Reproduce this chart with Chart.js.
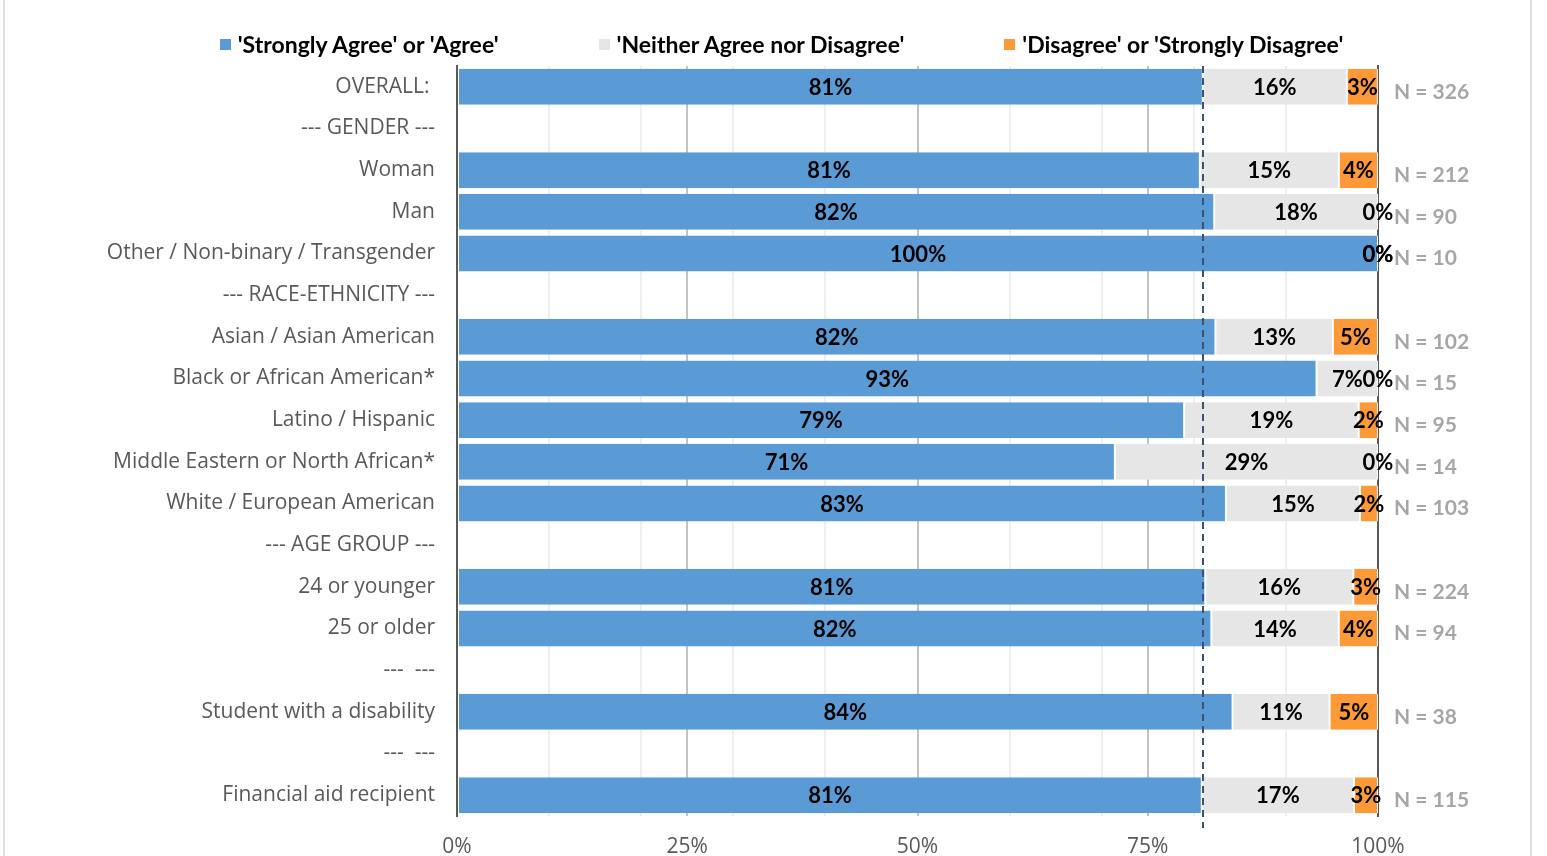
<!DOCTYPE html>
<html>
<head>
<meta charset="utf-8">
<script src="https://cdn.jsdelivr.net/npm/chart.js@4/dist/chart.umd.min.js"></script>
<style>
  html, body { margin: 0; padding: 0; background: #fff; overflow: hidden; }
  #wrap { position: relative; width: 1547px; height: 856px; }
  #frame {
    position: absolute; left: 3px; top: 0; width: 1525px; height: 856px;
    border-left: 2px solid #dedede; border-right: 2px solid #dedede;
    pointer-events: none;
  }
  #legend {
    position: absolute; left: 8px; top: 30px; width: 1547px;
    display: flex; justify-content: center; gap: 100px;
    font: bold 23px Lato, sans-serif; color: #000;
  }
  #legend .item { display: flex; align-items: center; white-space: nowrap; }
  #legend .box { width: 11px; height: 11px; margin-right: 7px; }
</style>
</head>
<body>
<div id="wrap">
  <div id="legend"></div>
  <canvas id="chart" width="1547" height="856"></canvas>
  <div id="frame"></div>
</div>
<script>
// ── Data ──────────────────────────────────────────────────────────────────────

const categories = [
  'OVERALL: ', '--- GENDER ---', 'Woman', 'Man', 'Other / Non-binary / Transgender',
  '--- RACE-ETHNICITY ---', 'Asian / Asian American', 'Black or African American*',
  'Latino / Hispanic', 'Middle Eastern or North African*', 'White / European American',
  '--- AGE GROUP ---', '24 or younger', '25 or older', '---  ---',
  'Student with a disability', '---  ---', 'Financial aid recipient',
];

const agree    = [80.98, null, 80.66, 82.22, 100, null, 82.35, 93.33, 78.95, 71.43, 83.49, null, 81.25, 81.91, null, 84.21, null, 80.87];
const neutral  = [15.64, null, 15.09, 17.78, 0,   null, 12.75, 6.67,  18.95, 28.57, 14.56, null, 16.07, 13.83, null, 10.53, null, 16.52];
const disagree = [3.37,  null, 4.25,  0,     0,   null, 4.90,  0,     2.11,  0,     1.94,  null, 2.68,  4.26,  null, 5.26,  null, 2.61];

const nLabels = [
  'N = 326', '', 'N = 212', 'N = 90', 'N = 10', '', 'N = 102', 'N = 15', 'N = 95',
  'N = 14', 'N = 103', '', 'N = 224', 'N = 94', '', 'N = 38', '', 'N = 115',
];

const xTicks = [0, 25, 50, 75, 100];

const SERIES = [
  { label: "'Strongly Agree' or 'Agree'",       data: agree,    color: '#5b9bd5' },
  { label: "'Neither Agree nor Disagree'",      data: neutral,  color: '#e7e6e6' },
  { label: "'Disagree' or 'Strongly Disagree'", data: disagree, color: '#fd9a37' },
];

// ── Plugins ───────────────────────────────────────────────────────────────────

// dashed reference line at the OVERALL agree value
const overallLine = {
  id: 'overallLine',
  afterDatasetsDraw(chart) {
    const { ctx, chartArea, scales: { x } } = chart;
    const px = Math.round(x.getPixelForValue(agree[0]));
    ctx.save();
    ctx.strokeStyle = '#3f5170';
    ctx.lineWidth = 2;
    ctx.setLineDash([7, 5]);
    ctx.beginPath();
    ctx.moveTo(px, chartArea.top);
    ctx.lineTo(px, chartArea.bottom + 12);
    ctx.stroke();
    ctx.restore();
  },
};

// percent labels centred on each segment
const segmentLabels = {
  id: 'segmentLabels',
  afterDraw(chart) {
    const { ctx } = chart;
    ctx.save();
    ctx.font = 'bold 22px Lato, sans-serif';
    ctx.fillStyle = '#000';
    ctx.textAlign = 'center';
    ctx.textBaseline = 'middle';
    chart.data.datasets.forEach((ds, di) => {
      chart.getDatasetMeta(di).data.forEach((bar, i) => {
        const v = ds.data[i];
        if (v === null || v === undefined) return;
        ctx.fillText(`${Math.round(v)}%`, (bar.x + bar.base) / 2, bar.y + 1);
      });
    });
    ctx.restore();
  },
};

// ── Chart ─────────────────────────────────────────────────────────────────────

const chart = new Chart(document.getElementById('chart'), {
  type: 'bar',
  data: {
    labels: categories,
    datasets: SERIES.map(s => ({
      label: s.label,
      data: s.data,
      backgroundColor: s.color,
      borderColor: '#ffffff',
      borderWidth: { left: 1, right: 1, top: 0, bottom: 0 },
      borderSkipped: false,
      barPercentage: 0.865,
      categoryPercentage: 1,
    })),
  },
  options: {
    indexAxis: 'y',
    responsive: false,
    animation: false,
    layout: { padding: { top: 66, left: 0, right: 0, bottom: 0 } },
    plugins: {
      legend: { display: false },
      tooltip: { enabled: false },
    },
    scales: {
      x: {
        stacked: true,
        min: 0,
        max: 100,
        afterBuildTicks: s => {
          const t = [];
          for (let v = 0; v <= 100; v += 5) t.push({ value: v });
          s.ticks = t;
        },
        afterFit: s => { s.height = 40; },
        border: { display: false },
        grid: {
          drawTicks: false,
          color: c => {
            const v = c.tick.value;
            if (v === 0 || v === 100) return 'rgba(0,0,0,0)';
            if (v % 25 === 0) return '#c3c3c3';
            if (v % 10 === 0) return '#efefef';
            return 'rgba(0,0,0,0)';
          },
          lineWidth: 2,
        },
        ticks: {
          autoSkip: false,
          maxRotation: 0,
          padding: 18,
          color: '#595959',
          font: { family: 'Open Sans', size: 21 },
          callback: v => xTicks.includes(v) ? `${v}%` : '',
        },
      },
      y: {
        stacked: true,
        z: 1,
        afterFit: s => { s.width = 457; },
        grid: { display: false, drawTicks: false },
        border: { display: true, color: '#595959', width: 2 },
        ticks: {
          padding: 22,
          color: '#595959',
          font: { family: 'Open Sans', size: 21 },
        },
      },
      y2: {
        type: 'category',
        labels: nLabels,
        position: 'right',
        offset: true,
        z: 1,
        afterFit: s => { s.width = 169; },
        grid: { display: false, drawTicks: false },
        border: { display: true, color: '#595959', width: 2 },
        ticks: {
          padding: 16,
          labelOffset: 5,
          autoSkip: false,
          color: '#a6a6a6',
          font: { family: 'Lato', size: 21, weight: 'bold' },
        },
      },
    },
  },
  plugins: [overallLine, segmentLabels],
});

// ── HTML legend ───────────────────────────────────────────────────────────────

document.getElementById('legend').innerHTML = chart.data.datasets
  .map(ds => `<div class="item"><span class="box" style="background:${ds.backgroundColor}"></span>${ds.label}</div>`)
  .join('');
</script>
</body>
</html>
